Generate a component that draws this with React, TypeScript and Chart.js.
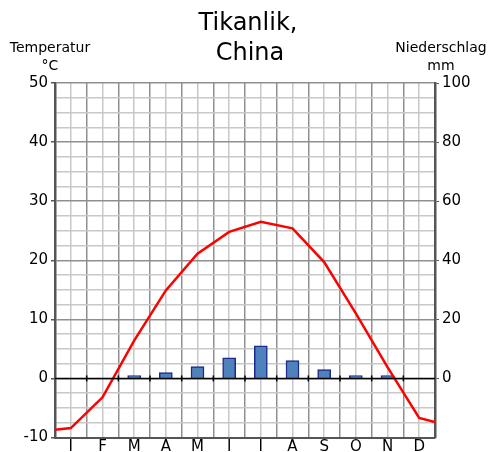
import React, { useEffect, useRef } from 'react';
import { Chart, registerables } from 'chart.js';

Chart.register(...registerables);

const months = ['I', 'F', 'M', 'A', 'M', 'I', 'I', 'A', 'S', 'O', 'N', 'D'];
const temperature = [-8.4, -3.2, 6.4, 14.9, 21.1, 24.8, 26.5, 25.4, 19.7, 11.0, 1.9, -6.7];
const tempStartEdge = -8.7;
const tempEndEdge = -7.4;
const precipitation = [0, 0, 1, 2, 4, 7, 11, 6, 3, 1, 1, 0];
const tempTickLabels = [-10, 0, 10, 20, 30, 40, 50];
const precipTickLabels = [0, 20, 40, 60, 80, 100];
const titleLines = ['Tikanlik,', 'China'];
const leftTitle = ['Temperatur', '°C'];
const rightTitle = ['Niederschlag', 'mm'];

const FONT = 'DejaVu Sans';

const textPlugin = {
  id: 'texts',
  afterDraw(chart: any) {
    const ctx = chart.ctx;
    ctx.save();
    ctx.fillStyle = '#000';
    ctx.textAlign = 'center';
    ctx.textBaseline = 'alphabetic';
    ctx.font = `24px "${FONT}"`;
    ctx.fillText(titleLines[0], 248, 30);
    ctx.fillText(titleLines[1], 250, 60);
    ctx.font = `14px "${FONT}"`;
    ctx.fillText(leftTitle[0], 50, 52);
    ctx.fillText(leftTitle[1], 50, 70);
    ctx.fillText(rightTitle[0], 441, 52);
    ctx.fillText(rightTitle[1], 441, 70);
    ctx.restore();
  },
};

const zeroTicksPlugin = {
  id: 'zeroTicks',
  afterDatasetsDraw(chart: any) {
    const ctx = chart.ctx;
    const xs = chart.scales.x;
    const ys = chart.scales.y;
    const y0 = ys.getPixelForValue(0);
    ctx.save();
    ctx.strokeStyle = '#000';
    ctx.lineWidth = 1.5;
    ctx.beginPath();
    ctx.moveTo(chart.chartArea.left, y0);
    ctx.lineTo(chart.chartArea.right, y0);
    ctx.stroke();
    for (let i = 1; i < months.length; i++) {
      const x = xs.getPixelForValue(i);
      ctx.beginPath();
      ctx.moveTo(x, y0 - 3);
      ctx.lineTo(x, y0 + 3);
      ctx.stroke();
    }
    ctx.restore();
  },
};

export default function App() {
  const ref = useRef<HTMLCanvasElement>(null);

  useEffect(() => {
    if (!ref.current) return;
    const lineData = [
      { x: 0, y: tempStartEdge },
      ...temperature.map((t, i) => ({ x: i + 0.5, y: t })),
      { x: months.length, y: tempEndEdge },
    ];
    const barData = precipitation.map((p, i) => ({ x: i + 0.5, y: p === 0 ? null : p }));
    const xTickValues = months.flatMap((_, i) => [i, i + 0.5]).concat([months.length]);
    const yTickValues: number[] = [];
    for (let v = -10; v <= 50; v += 2.5) yTickValues.push(v);

    const chart = new Chart(ref.current, {
      type: 'line',
      data: {
        datasets: [
          {
            type: 'line',
            data: lineData,
            yAxisID: 'y',
            borderColor: '#ff0000',
            borderWidth: 2.5,
            pointRadius: 0,
            tension: 0,
            fill: false,
          } as any,
          {
            type: 'bar',
            data: barData,
            yAxisID: 'y2',
            backgroundColor: '#4f81bd',
            borderColor: '#1c2a8c',
            borderWidth: 1.5,
            borderSkipped: 'bottom',
            barThickness: 13,
          } as any,
        ],
      },
      options: {
        animation: false,
        responsive: false,
        layout: { padding: { top: 83, left: 0, right: 0, bottom: 0 } },
        plugins: { legend: { display: false }, tooltip: { enabled: false }, title: { display: false } },
        scales: {
          x: {
            type: 'linear',
            min: 0,
            max: months.length,
            offset: false,
            afterBuildTicks: (s: any) => {
              s.ticks = xTickValues.map((v) => ({ value: v }));
            },
            afterFit: (s: any) => {
              s.height = 14.5;
            },
            ticks: {
              autoSkip: false,
              maxRotation: 0,
              padding: 1,
              color: '#000',
              font: { family: FONT, size: 15 },
              callback: (v: any) => (Number.isInteger(v) ? '' : months[Math.floor(v)]),
            },
            grid: {
              offset: false,
              drawTicks: false,
              color: (c: any) => (c.tick && Number.isInteger(c.tick.value) ? '#8f8f8f' : '#c8c8c8'),
              lineWidth: 1.5,
            },
            border: { color: '#555', width: 2 },
          },
          y: {
            position: 'left',
            min: -10,
            max: 50,
            afterBuildTicks: (s: any) => {
              s.ticks = yTickValues.map((v) => ({ value: v }));
            },
            afterFit: (s: any) => {
              s.width = 55;
            },
            ticks: {
              autoSkip: false,
              padding: 3,
              color: '#000',
              font: { family: FONT, size: 15 },
              callback: (v: any) => (tempTickLabels.includes(v) ? String(v) : ''),
            },
            grid: {
              color: (c: any) =>
                c.tick && c.tick.value % 10 === 0 ? '#8f8f8f' : '#c8c8c8',
              lineWidth: 1.5,
              tickLength: 4,
              tickColor: (c: any) =>
                c.tick && c.tick.value % 10 === 0 ? '#555' : 'rgba(0,0,0,0)',
            },
            border: { color: '#555', width: 2.5 },
          },
          y2: {
            position: 'right',
            min: -20,
            max: 100,
            afterBuildTicks: (s: any) => {
              s.ticks = [-20, ...precipTickLabels].map((v) => ({ value: v }));
            },
            afterFit: (s: any) => {
              s.width = 54;
            },
            ticks: {
              autoSkip: false,
              padding: 3,
              color: '#000',
              font: { family: FONT, size: 15 },
              callback: (v: any) => (precipTickLabels.includes(v) ? String(v) : ''),
            },
            grid: {
              drawOnChartArea: false,
              tickLength: 4,
              tickColor: (c: any) => (c.tick && c.tick.value >= 0 ? '#555' : 'rgba(0,0,0,0)'),
            },
            border: { color: '#555', width: 2.5 },
          },
        },
      } as any,
      plugins: [zeroTicksPlugin, textPlugin],
    });
    return () => chart.destroy();
  }, []);

  return (
    <canvas
      ref={ref}
      width={489}
      height={452}
      style={{ position: 'absolute', left: 0, top: 0, width: 489, height: 452 }}
    />
  );
}
